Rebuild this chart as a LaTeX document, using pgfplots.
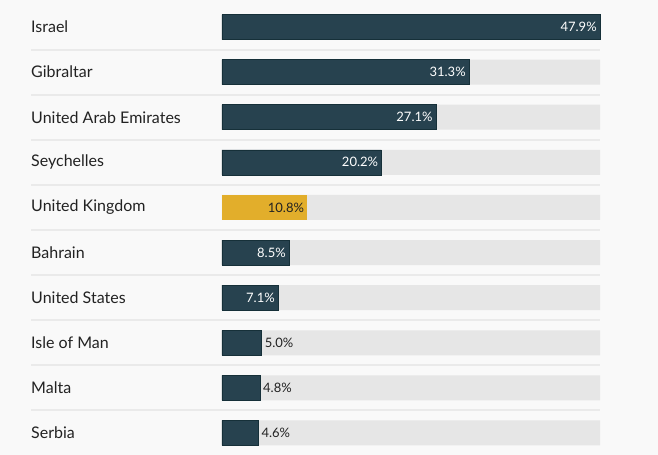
\documentclass[border=0pt]{standalone}
\usepackage{fontspec}
\setmainfont{Lato}
\usepackage{pgfplots}
\pgfplotsset{compat=1.18}
\definecolor{barc}{HTML}{27424F}
\definecolor{barline}{HTML}{163039}
\definecolor{ukc}{HTML}{E2AE2B}
\definecolor{trackc}{HTML}{E6E6E6}
\definecolor{pagec}{HTML}{F9F9F9}
\definecolor{sepc}{HTML}{EAEAEA}
\definecolor{textc}{HTML}{222222}
\begin{document}
\begin{tikzpicture}
\begin{axis}[
  scale only axis, width=658bp, height=455bp,
  xmin=-28.13, xmax=55.25, ymin=-0.599, ymax=9.488,
  y dir=reverse, axis lines=none, clip=false,
  axis background/.style={fill=pagec},
  xbar, bar width=25bp,
  /pgf/number format/assume math mode=true,
]
% separators
\draw[sepc, line width=2bp] (axis cs:-24.2,0.5) -- (axis cs:47.9,0.5);
\draw[sepc, line width=2bp] (axis cs:-24.2,1.5) -- (axis cs:47.9,1.5);
\draw[sepc, line width=2bp] (axis cs:-24.2,2.5) -- (axis cs:47.9,2.5);
\draw[sepc, line width=2bp] (axis cs:-24.2,3.5) -- (axis cs:47.9,3.5);
\draw[sepc, line width=2bp] (axis cs:-24.2,4.5) -- (axis cs:47.9,4.5);
\draw[sepc, line width=2bp] (axis cs:-24.2,5.5) -- (axis cs:47.9,5.5);
\draw[sepc, line width=2bp] (axis cs:-24.2,6.5) -- (axis cs:47.9,6.5);
\draw[sepc, line width=2bp] (axis cs:-24.2,7.5) -- (axis cs:47.9,7.5);
\draw[sepc, line width=2bp] (axis cs:-24.2,8.5) -- (axis cs:47.9,8.5);
% track bars
\addplot[fill=trackc, draw=none, bar shift=0pt] coordinates {
(47.9,0) (47.9,1) (47.9,2) (47.9,3) (47.9,4) (47.9,5) (47.9,6) (47.9,7) (47.9,8) (47.9,9)};
% dark bars, label inside
\addplot[fill=barc, draw=barline, line width=0.6bp, bar shift=0pt,
  point meta=x, nodes near coords={\pgfmathprintnumber[fixed,fixed zerofill,precision=1]{\pgfplotspointmeta}\%},
  nodes near coords style={anchor=east, inner sep=0pt, xshift=-3bp, text=white, font=\fontsize{13bp}{15bp}\selectfont}]
coordinates {(47.9,0) (31.3,1) (27.1,2) (20.2,3) (8.5,5) (7.1,6)};
% UK bar
\addplot[fill=ukc, draw=none, bar shift=0pt,
  point meta=x, nodes near coords={\pgfmathprintnumber[fixed,fixed zerofill,precision=1]{\pgfplotspointmeta}\%},
  nodes near coords style={anchor=east, inner sep=0pt, xshift=-3bp, text=textc, font=\fontsize{13bp}{15bp}\selectfont}]
coordinates {(10.8,4)};
% small bars, label outside
\addplot[fill=barc, draw=barline, line width=0.6bp, bar shift=0pt,
  point meta=x, nodes near coords={\pgfmathprintnumber[fixed,fixed zerofill,precision=1]{\pgfplotspointmeta}\%},
  nodes near coords style={anchor=west, inner sep=0pt, xshift=3bp, text=textc, font=\fontsize{13bp}{15bp}\selectfont}]
coordinates {(5.0,7) (4.8,8) (4.6,9)};
% category labels
\begin{scope}[every node/.style={anchor=west, inner sep=0pt, text=textc, font=\fontsize{16bp}{19bp}\selectfont}]
\node at (axis cs:-24.2,0) {Israel};
\node at (axis cs:-24.2,1) {Gibraltar};
\node at (axis cs:-24.2,2) {United Arab Emirates};
\node at (axis cs:-24.2,3) {Seychelles};
\node at (axis cs:-24.2,4) {United Kingdom};
\node at (axis cs:-24.2,5) {Bahrain};
\node at (axis cs:-24.2,6) {United States};
\node at (axis cs:-24.2,7) {Isle of Man};
\node at (axis cs:-24.2,8) {Malta};
\node at (axis cs:-24.2,9) {Serbia};
\end{scope}
\end{axis}
\end{tikzpicture}
\end{document}
